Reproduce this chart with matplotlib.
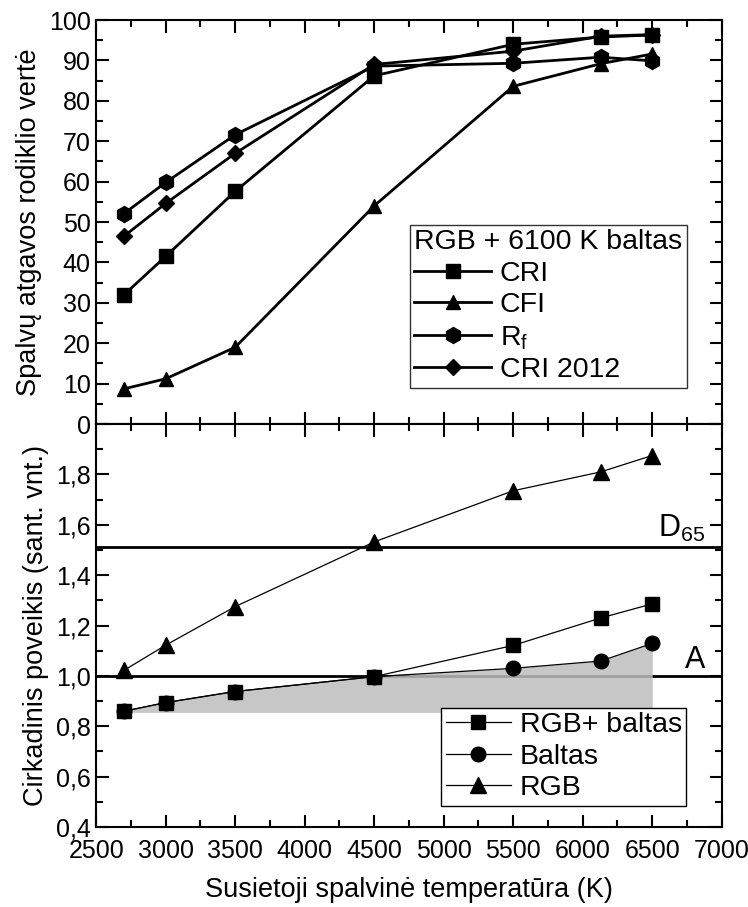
import matplotlib.pyplot as plt
from matplotlib.ticker import MultipleLocator, FuncFormatter

plt.rcParams['font.family'] = ['Liberation Sans', 'DejaVu Sans']
plt.rcParams['mathtext.fontset'] = 'custom'
plt.rcParams['mathtext.rm'] = 'Liberation Sans'

# correlated colour temperature (K)
cct = [2700, 3000, 3500, 4500, 5500, 6130, 6500]

# colour rendering metrics, RGB + 6100 K white
cri = [32, 41.5, 57.6, 86.2, 94.0, 95.8, 96.3]
cfi = [8.7, 11.2, 19.0, 54.0, 83.6, 89.2, 91.6]
rf = [52.1, 59.8, 71.6, 88.6, 89.3, 90.8, 89.9]
cri2012 = [46.5, 54.6, 67.0, 89.0, 92.3, 96.0, 96.4]

# circadian effect
rgb_white = [0.86, 0.894, 0.938, 0.997, 1.121, 1.230, 1.286]
white = [0.859, 0.894, 0.938, 0.997, 1.030, 1.059, 1.129]
rgb = [1.022, 1.122, 1.275, 1.532, 1.735, 1.81, 1.875]
fill_base = 0.855
d65_level = 1.51
a_level = 1.0

fig = plt.figure(figsize=(7.48, 9.07), dpi=100)
ax1 = fig.add_axes([0.1286, 0.5325, 0.8363, 0.4454])
ax2 = fig.add_axes([0.1286, 0.0882, 0.8363, 0.4443])

tfs = 18      # tick labels
lfs = 19.5    # axis labels
gfs = 20.5    # legends

for ax in (ax1, ax2):
    ax.set_xlim(2500, 7000)
    ax.xaxis.set_major_locator(MultipleLocator(500))
    ax.xaxis.set_minor_locator(MultipleLocator(250))
    ax.tick_params(which='both', direction='in', top=True, right=True, width=1.5)
    ax.tick_params(which='major', length=9, labelsize=tfs, pad=4)
    ax.tick_params(which='minor', length=5)
    ax.tick_params(axis='x', which='major', pad=8.5)
    for s in ax.spines.values():
        s.set_linewidth(1.5)

# top panel
ax1.plot(cct, cri, '-s', color='k', lw=2, ms=9.5, label='CRI')
ax1.plot(cct, cfi, '-^', color='k', lw=2, ms=10.5, label='CFI')
ax1.plot(cct, rf, '-h', color='k', lw=2, ms=11.5, label=r'R$_\mathregular{f}$')
ax1.plot(cct, cri2012, '-D', color='k', lw=2, ms=8.5, label='CRI 2012')
ax1.set_ylim(0, 100)
ax1.yaxis.set_major_locator(MultipleLocator(10))
ax1.yaxis.set_minor_locator(MultipleLocator(5))
ax1.tick_params(labelbottom=False)
ax1.set_ylabel('Spalvų atgavos rodiklio vertė', fontsize=lfs, labelpad=5)
leg1 = ax1.legend(title='RGB + 6100 K baltas', loc='lower right', bbox_to_anchor=(0.944, 0.09),
                  fontsize=gfs, title_fontsize=gfs, frameon=True, fancybox=False,
                  edgecolor='k', handlelength=2.7, borderpad=0.15, labelspacing=0.2,
                  handletextpad=0.3, borderaxespad=0)
leg1.get_frame().set_linewidth(1)
leg1._legend_box.align = 'left'

# bottom panel
ax2.axhline(d65_level, color='k', lw=2, zorder=2)
ax2.axhline(a_level, color='k', lw=2, zorder=2)
ax2.fill_between(cct, fill_base, white, color='#bdbdbd', alpha=0.85, lw=0, zorder=3)
ax2.plot(cct, rgb_white, '-s', color='k', lw=0.9, ms=9.5, label='RGB+ baltas', zorder=4)
ax2.plot(cct, white, '-o', color='k', lw=0.9, ms=10.5, label='Baltas', zorder=4)
ax2.plot(cct, rgb, '-^', color='k', lw=0.9, ms=11.5, label='RGB', zorder=4)
ax2.set_ylim(0.4, 2.0)
ax2.yaxis.set_major_locator(MultipleLocator(0.2))
ax2.yaxis.set_minor_locator(MultipleLocator(0.1))
ax2.yaxis.set_major_formatter(FuncFormatter(
    lambda v, p: '' if v > 1.9 else f'{v:.1f}'.replace('.', ',')))
ax2.set_ylabel('Cirkadinis poveikis (sant. vnt.)', fontsize=lfs, labelpad=5)
ax2.set_xlabel('Susietoji spalvinė temperatūra (K)', fontsize=lfs, labelpad=10)
ax2.text(6880, d65_level + 0.015, r'D$_\mathregular{65}$', fontsize=22, ha='right', va='bottom')
ax2.text(6880, a_level + 0.005, 'A', fontsize=22, ha='right', va='bottom')
leg2 = ax2.legend(loc='lower right', bbox_to_anchor=(0.943, 0.053), fontsize=gfs,
                  frameon=True, fancybox=False, framealpha=1, edgecolor='k',
                  handlelength=2.3, borderpad=0.15, labelspacing=0.2,
                  handletextpad=0.3, borderaxespad=0)
leg2.get_frame().set_linewidth(1)
leg2.set_zorder(5)

fig.savefig('out.png', dpi=100)
